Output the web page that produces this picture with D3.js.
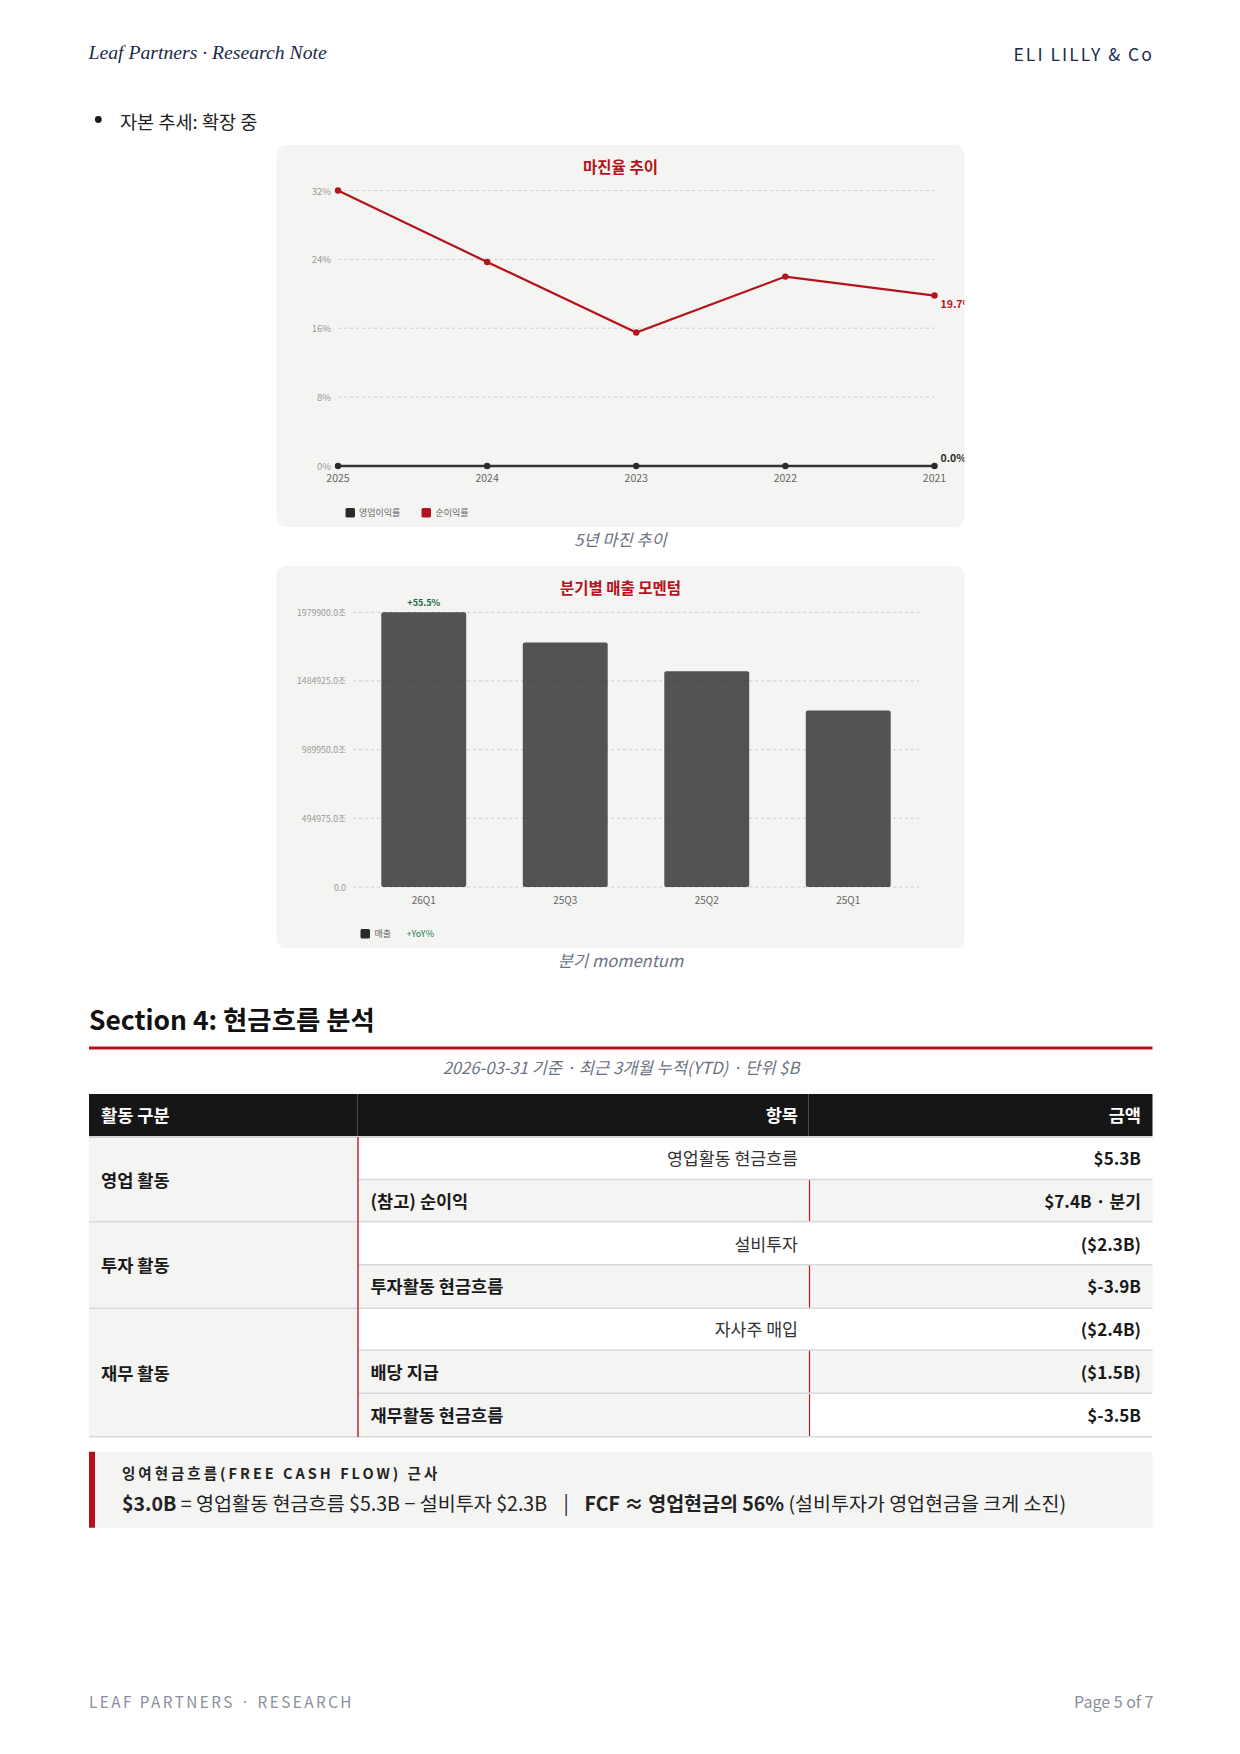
<!DOCTYPE html>
<html><head><meta charset="utf-8">
<script src="https://cdn.jsdelivr.net/npm/d3@7"></script>
<style>
html,body{margin:0;padding:0;background:#fff}
svg{display:block}
text{font-family:"Noto Sans CJK KR","Noto Sans",sans-serif}
</style></head><body>
<svg id="page" width="1240" height="1754" viewBox="0 0 1240 1754"></svg>
<script>
const marginYears = ["2025","2024","2023","2022","2021"];
const operatingMargin = [0,0,0,0,0];
const netMargin = [32,23.7,15.5,22.0,19.8];
const marginEndLabels = ["0.0%","19.7%"];
const marginTicks = [0,8,16,24,32];
const marginLegend = ["영업이익률","순이익률"];
const quarters = ["26Q1","25Q3","25Q2","25Q1"];
const revenue = [1979900,1761500,1555000,1272000];
const revenueTicks = [0,494975,989950,1484925,1979900];
const revenueTickLabels = ["0.0","494975.0조","989950.0조","1484925.0조","1979900.0조"];
const tableHeaders = ["활동 구분","항목","금액"];
const groupNames = ["영업 활동","투자 활동","재무 활동"];
const groupSpans = [2,2,3];
const itemNames = ["영업활동 현금흐름","(참고) 순이익","설비투자","투자활동 현금흐름","자사주 매입","배당 지급","재무활동 현금흐름"];
const itemAmounts = ["$5.3B","$7.4B · 분기","($2.3B)","$-3.9B","($2.4B)","($1.5B)","$-3.5B"];
const itemEmphasis = [false,true,false,true,false,true,true];

const RED="#b5121b", DARK="#2a2a2a", CARD="#f4f4f2", NAVY="#1a2a4a", GREY="#6b7280";
const svg=d3.select("#page");
const txt=(g,x,y,s,o={})=>{const t=g.append("text").attr("x",x).attr("y",y).text(s)
  .attr("dominant-baseline","central")
  .attr("font-size",o.size||14).attr("fill",o.fill||"#222")
  .attr("text-anchor",o.anchor||"start").attr("font-weight",o.weight||400);
  if(o.style)t.attr("font-style",o.style);
  if(o.ls)t.attr("letter-spacing",o.ls);
  if(o.family)t.style("font-family",o.family);
  return t;};

// page furniture
txt(svg,88.5,51.5,"Leaf Partners · Research Note",{size:19.7,fill:NAVY,style:"italic",family:'"Liberation Serif",serif'});
txt(svg,1154,53.5,"ELI LILLY & Co",{size:17.5,fill:NAVY,anchor:"end",ls:"2.05px"});
svg.append("circle").attr("cx",98.3).attr("cy",119.5).attr("r",3.4).attr("fill","#1a1a1a");
txt(svg,120,120,"자본 추세: 확장 중",{size:18.6,fill:"#222"});

// card helper
function card(id,y0,h){
  svg.append("clipPath").attr("id",id).append("rect").attr("x",276.5).attr("y",y0).attr("width",688).attr("height",h).attr("rx",9);
  svg.append("rect").attr("x",276.5).attr("y",y0).attr("width",688).attr("height",h).attr("rx",9).attr("fill",CARD);
  return svg.append("g").attr("clip-path",`url(#${id})`);
}
const gridStyle=s=>s.attr("stroke","#cfcfcc").attr("stroke-width",1).attr("stroke-dasharray","3.4 2.6");

// chart 1
{
  const g=card("c1",145,382);
  txt(g,620.5,166,"마진율 추이",{size:15.5,weight:700,fill:RED,anchor:"middle"});
  const x=d3.scalePoint().domain(marginYears).range([338,934.5]);
  const y=d3.scaleLinear().domain([0,32]).range([466,190.5]);
  g.selectAll("line.g").data(marginTicks).join("line").attr("class","g")
    .attr("x1",338).attr("x2",934.5).attr("y1",d=>y(d)).attr("y2",d=>y(d)).call(gridStyle);
  g.selectAll("text.yt").data(marginTicks).join("text").attr("class","yt")
    .attr("x",331).attr("y",d=>y(d)).attr("text-anchor","end").attr("dominant-baseline","central")
    .attr("font-size",9.5).attr("fill","#999").text(d=>d+"%");
  g.selectAll("text.xt").data(marginYears).join("text").attr("class","xt")
    .attr("x",d=>x(d)).attr("y",477).attr("text-anchor","middle").attr("dominant-baseline","central")
    .attr("font-size",10.5).attr("fill","#666").text(d=>d);
  const line=d3.line().x((d,i)=>x(marginYears[i])).y(d=>y(d));
  [[operatingMargin,"#333",2.6],[netMargin,RED,2.2]].forEach(([vals,col,sw])=>{
    g.append("path").attr("d",line(vals)).attr("fill","none").attr("stroke",col).attr("stroke-width",sw);
    g.selectAll(null).data(vals).join("circle").attr("cx",(d,i)=>x(marginYears[i])).attr("cy",d=>y(d)).attr("r",3.2).attr("fill",col==="#333"?DARK:col);
  });
  txt(g,940.5,303,marginEndLabels[1],{size:10.5,weight:700,fill:RED});
  txt(g,940.5,457,marginEndLabels[0],{size:10.5,weight:700,fill:DARK});
  const lx=[345.5,421.5], tx=[359,435.5];
  marginLegend.forEach((s,i)=>{
    g.append("rect").attr("x",lx[i]).attr("y",508).attr("width",9.5).attr("height",9.5).attr("rx",1.5).attr("fill",i?RED:DARK);
    txt(g,tx[i],512.7,s,{size:9,fill:"#666"});
  });
  txt(svg,620.5,539,"5년 마진 추이",{size:16.5,style:"italic",fill:GREY,anchor:"middle"});
}

// chart 2
{
  const g=card("c2",566,382);
  txt(g,620.5,587,"분기별 매출 모멘텀",{size:15.5,weight:700,fill:RED,anchor:"middle"});
  const x=d3.scaleBand().domain(quarters).range([353,919]).paddingInner(0.4).paddingOuter(0.2);
  const y=d3.scaleLinear().domain([0,1979900]).range([887,612.3]);
  g.selectAll("line.g").data(revenueTicks).join("line").attr("class","g")
    .attr("x1",353).attr("x2",919).attr("y1",d=>y(d)).attr("y2",d=>y(d)).call(gridStyle);
  g.selectAll("text.yt").data(revenueTicks).join("text").attr("class","yt")
    .attr("x",346).attr("y",d=>y(d)).attr("text-anchor","end").attr("dominant-baseline","central")
    .attr("font-size",8.7).attr("fill","#999").text((d,i)=>revenueTickLabels[i]);
  g.selectAll("rect.b").data(revenue).join("rect").attr("class","b")
    .attr("x",(d,i)=>x(quarters[i])).attr("width",x.bandwidth())
    .attr("y",d=>y(d)).attr("height",d=>y(0)-y(d)).attr("rx",2)
    .attr("fill",DARK).attr("fill-opacity",0.8);
  g.selectAll("text.xt").data(quarters).join("text").attr("class","xt")
    .attr("x",d=>x(d)+x.bandwidth()/2).attr("y",899).attr("text-anchor","middle").attr("dominant-baseline","central")
    .attr("font-size",10).attr("fill","#666").text(d=>d);
  txt(g,x(quarters[0])+x.bandwidth()/2,602,"+55.5%",{size:9,weight:700,fill:"#1a6b45",anchor:"middle"});
  g.append("rect").attr("x",360.5).attr("y",929).attr("width",9.5).attr("height",9.5).attr("rx",1.5).attr("fill",DARK);
  txt(g,374.5,933.7,"매출",{size:9,fill:"#666"});
  txt(g,406.5,933.7,"+YoY%",{size:9,fill:"#1a7a4a"});
  txt(svg,620.5,960,"분기 momentum",{size:16.5,style:"italic",fill:GREY,anchor:"middle"});
}

// section
txt(svg,89,1018,"Section 4: 현금흐름 분석",{size:26.4,weight:700,fill:"#111"});
svg.append("rect").attr("x",89).attr("y",1046.5).attr("width",1063.5).attr("height",3).attr("fill",RED);
txt(svg,621,1067,"2026-03-31 기준 · 최근 3개월 누적(YTD) · 단위 $B",{size:16.6,style:"italic",fill:GREY,anchor:"middle"});

// table
{
  const L=89,R=1152.5,C1=357.5,C2=808.5;
  const g=svg.append("g");
  g.append("rect").attr("x",L).attr("y",1094).attr("width",R-L).attr("height",42).attr("fill","#161616");
  [C1,C2].forEach(v=>g.append("line").attr("x1",v).attr("x2",v).attr("y1",1094).attr("y2",1136).attr("stroke","#4a4a4a"));
  txt(g,101,1114.5,tableHeaders[0],{size:17.6,weight:700,fill:"#fff"});
  txt(g,798,1114.5,tableHeaders[1],{size:17.6,weight:700,fill:"#fff",anchor:"end"});
  txt(g,1141,1114.5,tableHeaders[2],{size:17.6,weight:700,fill:"#fff",anchor:"end"});
  const rowEdges=[1137,1179.5,1221.7,1264.7,1308.3,1350,1393.3,1436.7];
  const rowTextY=[1157.3,1200.6,1243,1285.5,1328.2,1371.4,1414];
  let idx=0;
  groupNames.forEach((name,gi)=>{
    const top=rowEdges[idx], bot=rowEdges[idx+groupSpans[gi]];
    g.append("rect").attr("x",L).attr("y",top).attr("width",C1-L).attr("height",bot-top).attr("fill",CARD);
    txt(g,101,(top+bot)/2-0.3,name,{size:17.6,weight:700,fill:"#1a1a1a"});
    idx+=groupSpans[gi];
  });
  itemNames.forEach((s,i)=>{
    const top=rowEdges[i], bot=rowEdges[i+1], em=itemEmphasis[i], cy=rowTextY[i];
    if(em){
      g.append("rect").attr("x",C1).attr("y",top).attr("width",C2-C1).attr("height",bot-top).attr("fill",CARD);
      g.append("rect").attr("x",C2).attr("y",top).attr("width",R-C2).attr("height",bot-top).attr("fill",i===6?"#fff":CARD);
      g.append("line").attr("x1",C2+1).attr("x2",C2+1).attr("y1",top).attr("y2",bot).attr("stroke","#c8141e").attr("stroke-width",1.2);
      txt(g,370.5,cy,s,{size:17.5,weight:700,fill:"#1a1a1a"});
    } else {
      txt(g,798,cy,s,{size:17.3,fill:"#333",anchor:"end"});
    }
    txt(g,1141,cy,itemAmounts[i],{size:17.1,weight:700,fill:"#1a1a1a",anchor:"end"});
  });
  rowEdges.forEach((e,i)=>{
    const start=(i===0||i===2||i===4||i===7)?L:C1;
    g.append("line").attr("x1",start).attr("x2",R).attr("y1",e).attr("y2",e).attr("stroke",i===0?"#c4c7cb":"#d6d9de").attr("stroke-width",1.5);
  });
  g.append("line").attr("x1",358).attr("x2",358).attr("y1",1137).attr("y2",1437).attr("stroke","#c4404a").attr("stroke-width",1.7);
}

// FCF note
{
  const g=svg.append("g");
  g.append("rect").attr("x",89).attr("y",1451.7).attr("width",1063.5).attr("height",76).attr("fill",CARD);
  g.append("rect").attr("x",89).attr("y",1451.7).attr("width",6).attr("height",76).attr("fill",RED);
  txt(g,122,1472,"잉여현금흐름(FREE CASH FLOW) 근사",{size:14.5,weight:700,fill:"#222",ls:"3px"});
  const t=g.append("text").attr("x",122).attr("y",1501.5).attr("dominant-baseline","central").attr("font-size",19.6).attr("fill","#222");
  t.append("tspan").attr("font-weight",700).text("$3.0B");
  t.append("tspan").text(" = 영업활동 현금흐름 $5.3B − 설비투자 $2.3B");
  txt(g,563.5,1501.5,"|",{size:19.6,fill:"#222"});
  const t2=g.append("text").attr("x",584.5).attr("y",1501.5).attr("dominant-baseline","central").attr("font-size",19.5).attr("fill","#222");
  t2.append("tspan").attr("font-weight",700).text("FCF ≈ 영업현금의 56%");
  t2.append("tspan").text(" (설비투자가 영업현금을 크게 소진)");
}

// footer
txt(svg,89,1701,"LEAF PARTNERS · RESEARCH",{size:15.3,fill:"#8a8f9c",ls:"2.45px"});
txt(svg,1153.5,1701,"Page 5 of 7",{size:16,fill:"#8a8f9c",anchor:"end"});
</script>
</body></html>
